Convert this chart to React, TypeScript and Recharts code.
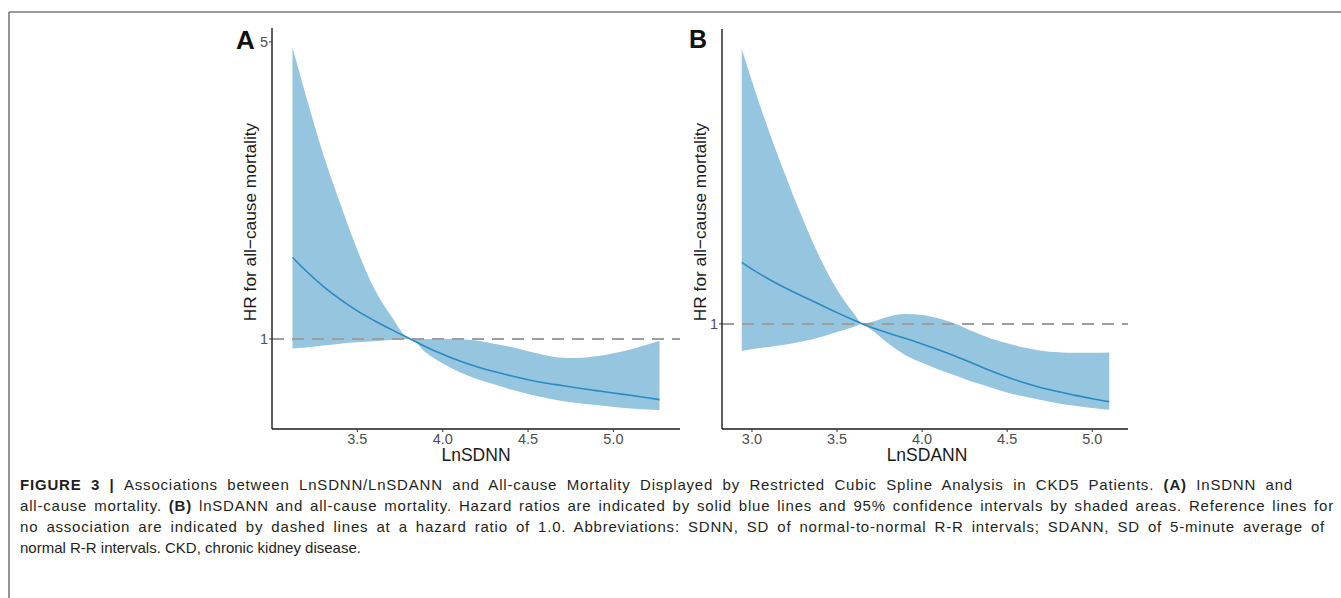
import React from "react";
import {
  ComposedChart,
  Area,
  Line,
  XAxis,
  YAxis,
  ReferenceLine,
} from "recharts";

// ---- Panel A: LnSDNN ----
const A_X = [3.12, 3.2, 3.3, 3.4, 3.5, 3.6, 3.7, 3.81, 3.9, 4.0, 4.1, 4.2, 4.3, 4.4, 4.5, 4.6, 4.7, 4.8, 4.9, 5.0, 5.1, 5.2, 5.27];
const A_HR = [1.556, 1.445, 1.33, 1.239, 1.164, 1.104, 1.052, 1.0, 0.959, 0.92, 0.887, 0.86, 0.838, 0.819, 0.802, 0.788, 0.777, 0.766, 0.756, 0.746, 0.737, 0.727, 0.72];
const A_LO = [0.95, 0.955, 0.965, 0.975, 0.982, 0.988, 0.994, 1.0, 0.93, 0.875, 0.835, 0.805, 0.782, 0.76, 0.742, 0.727, 0.715, 0.706, 0.699, 0.692, 0.686, 0.682, 0.68];
const A_HI = [4.84, 3.72, 2.72, 2.08, 1.62, 1.31, 1.13, 1.0, 1.0, 1.0, 0.998, 0.992, 0.975, 0.957, 0.935, 0.915, 0.903, 0.902, 0.91, 0.925, 0.945, 0.97, 0.99];

// ---- Panel B: LnSDANN ----
const B_X = [2.94, 3.0, 3.1, 3.2, 3.3, 3.4, 3.5, 3.6, 3.65, 3.7, 3.8, 3.9, 4.0, 4.1, 4.2, 4.3, 4.4, 4.5, 4.6, 4.7, 4.8, 4.9, 5.0, 5.1];
const B_HR = [1.396, 1.346, 1.274, 1.213, 1.16, 1.111, 1.063, 1.02, 1.0, 0.982, 0.952, 0.925, 0.897, 0.868, 0.838, 0.807, 0.777, 0.75, 0.727, 0.708, 0.693, 0.679, 0.667, 0.656];
const B_LO = [0.864, 0.872, 0.883, 0.895, 0.91, 0.93, 0.957, 0.985, 1.0, 0.97, 0.9, 0.845, 0.81, 0.78, 0.755, 0.73, 0.71, 0.69, 0.675, 0.662, 0.65, 0.642, 0.634, 0.628];
const B_HI = [4.43, 3.72, 2.84, 2.22, 1.76, 1.43, 1.205, 1.056, 1.0, 1.01, 1.04, 1.055, 1.05, 1.03, 1.0, 0.96, 0.925, 0.9, 0.88, 0.865, 0.858, 0.855, 0.855, 0.856];

const A_XTICKS = [3.5, 4.0, 4.5, 5.0];
const B_XTICKS = [3.0, 3.5, 4.0, 4.5, 5.0];
const A_YTICKS = [1, 5];
const B_YTICKS = [1];

const CAPTION_1_BOLD = "FIGURE 3 | ";
const CAPTION_1 = "Associations between LnSDNN/LnSDANN and All-cause Mortality Displayed by Restricted Cubic Spline Analysis in CKD5 Patients. ";
const CAPTION_1_A = "(A)";
const CAPTION_1_END = " InSDNN and";
const CAPTION_2_START = "all-cause mortality. ";
const CAPTION_2_B = "(B)";
const CAPTION_2 = " lnSDANN and all-cause mortality. Hazard ratios are indicated by solid blue lines and 95% confidence intervals by shaded areas. Reference lines for";
const CAPTION_3 = "no association are indicated by dashed lines at a hazard ratio of 1.0. Abbreviations: SDNN, SD of normal-to-normal R-R intervals; SDANN, SD of 5-minute average of";
const CAPTION_4 = "normal R-R intervals. CKD, chronic kidney disease.";

const FONT = "'Liberation Sans', Arial, Helvetica, sans-serif";
const BAND = "#95c5df";
const LINE = "#2a8bc0";

function build(xs: number[], hr: number[], lo: number[], hi: number[]) {
  return xs.map((x, i) => ({ x, hr: hr[i], band: [lo[i], hi[i]] }));
}

const dataA = build(A_X, A_HR, A_LO, A_HI);
const dataB = build(B_X, B_HR, B_LO, B_HI);

type PanelProps = {
  data: any[];
  xDomain: [number, number];
  yDomain: [number, number];
  xTicks: number[];
  yTicks: number[];
  left: number;
  width: number;
  marginTop: number;
  marginRight: number;
};

function Panel(p: PanelProps) {
  const tickStyle = { fill: "#4d4d4d", fontSize: 14.5, fontFamily: FONT };
  return (
    <div style={{ position: "absolute", left: p.left, top: 0 }}>
      <ComposedChart
        width={p.width}
        height={470}
        data={p.data}
        margin={{ top: p.marginTop, right: p.marginRight, left: 0, bottom: 0 }}
      >
        <XAxis
          dataKey="x"
          type="number"
          domain={p.xDomain}
          ticks={p.xTicks}
          tickFormatter={(v: number) => v.toFixed(1)}
          allowDataOverflow
          height={41}
          stroke="#1a1a1a"
          strokeWidth={1.4}
          tick={tickStyle}
          tickSize={3}
          tickMargin={2}
          tickLine={{ stroke: "#333", strokeWidth: 1 }}
        />
        <YAxis
          type="number"
          scale="log"
          domain={p.yDomain}
          ticks={p.yTicks}
          allowDataOverflow
          width={72}
          stroke="#1a1a1a"
          strokeWidth={1.4}
          tick={tickStyle}
          tickSize={3}
          tickMargin={1}
          tickLine={{ stroke: "#333", strokeWidth: 1 }}
        />
        <Area
          dataKey="band"
          type="monotone"
          fill={BAND}
          fillOpacity={1}
          stroke="none"
          isAnimationActive={false}
        />
        <ReferenceLine y={1} stroke="#9e9e9e" strokeWidth={2} strokeDasharray="12 8" />
        <Line
          dataKey="hr"
          type="monotone"
          stroke={LINE}
          strokeWidth={1.6}
          dot={false}
          isAnimationActive={false}
        />
      </ComposedChart>
    </div>
  );
}

const capLine: React.CSSProperties = {
  height: 21,
  lineHeight: "21px",
  fontSize: 15,
  letterSpacing: "0.8px",
  textAlign: "justify",
  textAlignLast: "justify",
  whiteSpace: "normal",
  overflow: "visible",
};

export default function App() {
  return (
    <div
      style={{
        position: "absolute",
        left: 0,
        top: 0,
        width: 1341,
        height: 598,
        background: "#fff",
        fontFamily: FONT,
        overflow: "hidden",
      }}
    >
      <Panel
        data={dataA}
        xDomain={[3.0, 5.39]}
        yDomain={[0.614, 5.39]}
        xTicks={A_XTICKS}
        yTicks={A_YTICKS}
        left={200}
        width={500}
        marginTop={28}
        marginRight={20}
      />
      <Panel
        data={dataB}
        xDomain={[2.824, 5.21]}
        yDomain={[0.566, 4.94]}
        xTicks={B_XTICKS}
        yTicks={B_YTICKS}
        left={650}
        width={500}
        marginTop={29}
        marginRight={22}
      />
      <svg
        width={1341}
        height={598}
        style={{ position: "absolute", left: 0, top: 0, pointerEvents: "none" }}
      >
        <line x1={9} y1={12} x2={1341} y2={12} stroke="#7a7a7a" strokeWidth={1.6} />
        <line x1={9} y1={12} x2={9} y2={598} stroke="#7a7a7a" strokeWidth={1.6} />
        <text x={236} y={49} fontSize={26} fontWeight="bold" fontFamily={FONT} fill="#111">A</text>
        <text x={689} y={48} fontSize={25} fontWeight="bold" fontFamily={FONT} fill="#111">B</text>
        <text
          x={0}
          y={0}
          transform="translate(256,222) rotate(-90)"
          textAnchor="middle"
          fontSize={17.3}
          fontFamily={FONT}
          fill="#1a1a1a"
        >
          HR for all−cause mortality
        </text>
        <text
          x={0}
          y={0}
          transform="translate(706,222) rotate(-90)"
          textAnchor="middle"
          fontSize={17.3}
          fontFamily={FONT}
          fill="#1a1a1a"
        >
          HR for all−cause mortality
        </text>
        <text x={476} y={461} textAnchor="middle" fontSize={17.5} fontFamily={FONT} fill="#1a1a1a">LnSDNN</text>
        <text x={927} y={461} textAnchor="middle" fontSize={17.5} fontFamily={FONT} fill="#1a1a1a">LnSDANN</text>
      </svg>
      <div
        style={{
          position: "absolute",
          left: 20,
          top: 474,
          color: "#231f20",
          fontFamily: FONT,
        }}
      >
        <div style={{ ...capLine, width: 1273 }}>
          <b>{CAPTION_1_BOLD}</b>
          {CAPTION_1}
          <b>{CAPTION_1_A}</b>
          {CAPTION_1_END}
        </div>
        <div style={{ ...capLine, width: 1314 }}>
          {CAPTION_2_START}
          <b>{CAPTION_2_B}</b>
          {CAPTION_2}
        </div>
        <div style={{ ...capLine, width: 1305 }}>{CAPTION_3}</div>
        <div style={{ ...capLine, width: 1000, letterSpacing: "0px", textAlign: "left", textAlignLast: "left" }}>{CAPTION_4}</div>
      </div>
    </div>
  );
}
